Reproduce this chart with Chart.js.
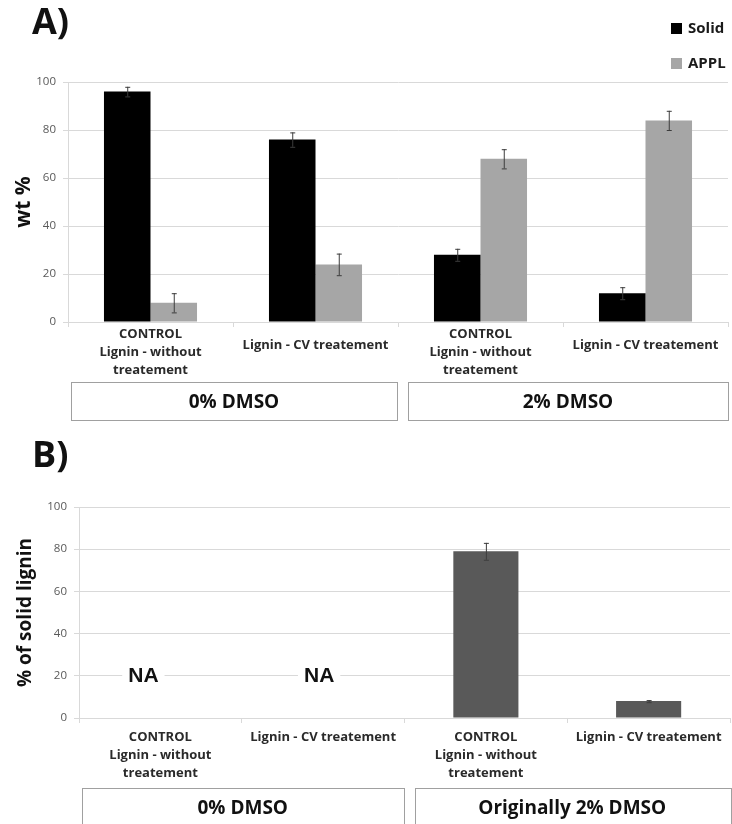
<!DOCTYPE html>
<html>
<head>
<meta charset="utf-8">
<script src="https://cdn.jsdelivr.net/npm/chart.js@4.4.1/dist/chart.umd.min.js"></script>
<style>
  body { margin: 0; background: #fff; font-family: "Open Sans", sans-serif; }
  #page { position: relative; width: 732px; height: 824px; overflow: hidden; }
  .panel { position: absolute; font-weight: 700; font-size: 36px; line-height: 1; color: #111; }
  .leg { position: absolute; left: 671px; font-weight: 700; font-size: 15px; line-height: 15px; color: #1a1a1a; white-space: nowrap; }
  .leg i { display: inline-block; width: 11px; height: 11px; margin-right: 6px; vertical-align: -1px; }
  #wrapA { position: absolute; left: 0; top: 0; width: 732px; height: 430px; }
  #wrapB { position: absolute; left: 0; top: 430px; width: 732px; height: 394px; }
</style>
</head>
<body>
<div id="page">
  <div id="wrapA"><canvas id="chartA" width="732" height="430"></canvas></div>
  <div id="wrapB"><canvas id="chartB" width="732" height="394"></canvas></div>
  <div class="panel" style="left:32px; top:3px;">A)</div>
  <div class="panel" style="left:32px; top:436px;">B)</div>
  <div class="leg" style="top:20px;"><i style="background:#000"></i>Solid</div>
  <div class="leg" style="top:55px;"><i style="background:#a6a6a6"></i>APPL</div>
</div>
<script>
// categories (same four for both panels)
const categories = [
  ['CONTROL', 'Lignin - without', 'treatement'],
  'Lignin - CV treatement',
  ['CONTROL', 'Lignin - without', 'treatement'],
  'Lignin - CV treatement'
];

// panel A: wt %
const solidValues = [96, 76, 28, 12];
const solidErrors = [2, 3, 2.5, 2.5];
const applValues = [8, 24, 68, 84];
const applErrors = [4, 4.5, 4, 4];
const groupsA = [
  { label: '0% DMSO', from: 0, to: 1 },
  { label: '2% DMSO', from: 2, to: 3 }
];

// panel B: % of solid lignin
const solidLigninValues = [null, null, 79, 8];
const solidLigninErrors = [0, 0, 4, 0.5];
const naLabels = ['NA', 'NA', null, null];
const naLevel = 20;
const groupsB = [
  { label: '0% DMSO', from: 0, to: 1 },
  { label: 'Originally 2% DMSO', from: 2, to: 3 }
];

const yMin = 0, yMax = 100, yStep = 20;

const GRID = '#d9d9d9';

// error bars drawn from each dataset's "errors" array
const errorBars = {
  id: 'errorBars',
  afterDatasetsDraw(chart) {
    const ctx = chart.ctx;
    const y = chart.scales.y;
    chart.data.datasets.forEach((ds, di) => {
      if (!ds.errors) return;
      const meta = chart.getDatasetMeta(di);
      meta.data.forEach((bar, i) => {
        const v = ds.data[i], e = ds.errors[i];
        if (v == null || !e) return;
        const top = y.getPixelForValue(v + e);
        const bot = y.getPixelForValue(v - e);
        ctx.save();
        ctx.strokeStyle = '#3c3c3c';
        ctx.lineWidth = 1;
        ctx.beginPath();
        ctx.moveTo(bar.x + 0.5, top);
        ctx.lineTo(bar.x + 0.5, bot);
        ctx.moveTo(bar.x - 2, top + 0.5);
        ctx.lineTo(bar.x + 3, top + 0.5);
        ctx.moveTo(bar.x - 2, bot + 0.5);
        ctx.lineTo(bar.x + 3, bot + 0.5);
        ctx.stroke();
        ctx.restore();
      });
    });
  }
};

// boxed group labels under the category labels
function groupBoxes(groups, top, bottom) {
  return {
    id: 'groupBoxes',
    afterDraw(chart) {
      const ctx = chart.ctx;
      const x = chart.scales.x;
      ctx.save();
      groups.forEach((g, gi) => {
        const l = x.getPixelForValue(g.from - 0.5) + (gi === 0 ? 3 : 10);
        const r = x.getPixelForValue(g.to + 0.5) - (gi === groups.length - 1 ? 0 : 1);
        ctx.strokeStyle = '#a0a0a0';
        ctx.lineWidth = 1;
        ctx.strokeRect(Math.round(l) + 0.5, top + 0.5, Math.round(r - l), bottom - top);
        ctx.fillStyle = '#111';
        ctx.font = '700 19px "Open Sans"';
        ctx.textAlign = 'center';
        ctx.textBaseline = 'middle';
        ctx.fillText(g.label, (l + r) / 2, top + 21);
      });
      ctx.restore();
    }
  };
}

// "NA" markers for categories with no value
const naMarkers = {
  id: 'naMarkers',
  afterDatasetsDraw(chart) {
    const ctx = chart.ctx;
    const x = chart.scales.x, y = chart.scales.y;
    const shift = [-17, -4];
    ctx.save();
    ctx.font = 'bold 21px "Liberation Sans"';
    ctx.textAlign = 'center';
    ctx.textBaseline = 'middle';
    naLabels.forEach((t, i) => {
      if (!t) return;
      const cx = x.getPixelForValue(i) + (shift[i] || 0);
      const cy = y.getPixelForValue(naLevel);
      const w = ctx.measureText(t).width + 12;
      ctx.fillStyle = '#fff';
      ctx.fillRect(cx - w / 2, cy - 3, w, 6);
      ctx.fillStyle = '#111';
      ctx.fillText(t, cx, cy);
    });
    ctx.restore();
  }
};

function yAxis(title, width, titleSize, titlePad) {
  return {
    min: yMin, max: yMax,
    afterFit: s => { s.width = width; },
    border: { color: GRID },
    grid: { color: GRID, tickLength: 5 },
    ticks: { stepSize: yStep, padding: 7, color: '#595959', font: { family: 'Open Sans', size: 11.5 } },
    title: {
      display: true, text: title, color: '#111',
      font: { family: 'Open Sans', size: titleSize, weight: '700' },
      padding: { top: titlePad, bottom: 0 }
    }
  };
}

function xAxis(height, pad, singleLineHeight) {
  return {
    afterFit: s => { s.height = height; },
    border: { color: GRID },
    grid: { color: GRID, drawOnChartArea: false, tickLength: 5, offset: true },
    ticks: {
      autoSkip: false, maxRotation: 0, padding: pad, color: '#2a2a2a',
      font: c => ({
        family: 'Open Sans', size: 13, weight: '700',
        lineHeight: Array.isArray(categories[c.index]) ? '18px' : singleLineHeight
      })
    }
  };
}

new Chart(document.getElementById('chartA'), {
  type: 'bar',
  data: {
    labels: categories,
    datasets: [
      { label: 'Solid', data: solidValues, errors: solidErrors, backgroundColor: '#000',
        categoryPercentage: 0.564, barPercentage: 1 },
      { label: 'APPL', data: applValues, errors: applErrors, backgroundColor: '#a6a6a6',
        categoryPercentage: 0.564, barPercentage: 1 }
    ]
  },
  options: {
    responsive: false,
    animation: false,
    layout: { padding: { left: 0, top: 82, right: 4, bottom: 52 } },
    plugins: { legend: { display: false }, tooltip: { enabled: false } },
    scales: { x: xAxis(56, -2, '40px'), y: yAxis('wt %', 68, 21, 11) }
  },
  plugins: [errorBars, groupBoxes(groupsA, 382, 420)]
});

new Chart(document.getElementById('chartB'), {
  type: 'bar',
  data: {
    labels: categories,
    datasets: [
      { label: '% of solid lignin', data: solidLigninValues, errors: solidLigninErrors,
        backgroundColor: '#595959', categoryPercentage: 0.4, barPercentage: 1 }
    ]
  },
  options: {
    responsive: false,
    animation: false,
    layout: { padding: { left: 0, top: 77, right: 2, bottom: 44 } },
    plugins: { legend: { display: false }, tooltip: { enabled: false } },
    scales: { x: xAxis(62, 5, '18px'), y: yAxis('% of solid lignin', 79, 19, 14) }
  },
  plugins: [errorBars, naMarkers, groupBoxes(groupsB, 358, 400)]
});
</script>
</body>
</html>
